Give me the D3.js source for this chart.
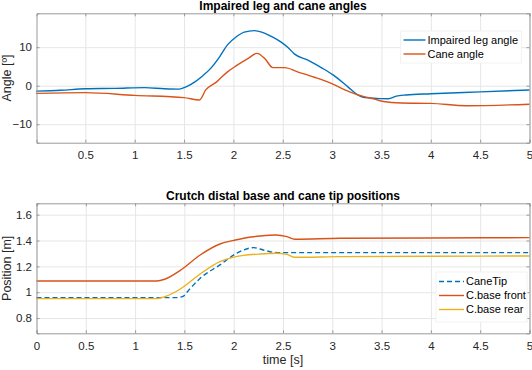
<!DOCTYPE html>
<html>
<head>
<meta charset="utf-8">
<script src="https://cdn.jsdelivr.net/npm/d3@7"></script>
<style>
  body { margin: 0; background: #fff; }
  svg { display: block; font-family: "Liberation Sans", Arial, sans-serif; }
</style>
</head>
<body>
<svg id="chart" width="532" height="370"></svg>
<script>
// top panel: angles (deg)
const legTime = [0, 0.25, 0.5, 0.8, 1.1, 1.3, 1.45, 1.52, 1.61, 1.69, 1.77, 1.86, 1.94, 2.03, 2.11, 2.21, 2.32, 2.4, 2.48, 2.55, 2.62, 2.75, 2.89, 3.01, 3.16, 3.26, 3.33, 3.45, 3.57, 3.65, 3.75, 4.0, 4.5, 5.0];
const legAngle = [-1.4, -1.2, -0.8, -0.7, -0.5, -0.8, -0.9, -0.3, 1.0, 2.6, 4.5, 7.5, 10.6, 12.7, 13.9, 14.3, 13.6, 12.6, 11.4, 10.0, 8.2, 6.7, 4.7, 2.8, -0.3, -2.4, -3.1, -3.3, -3.4, -2.7, -2.4, -2.1, -1.6, -1.1];
const caneTime = [0, 0.5, 1.0, 1.5, 1.656, 1.72, 1.83, 1.94, 2.03, 2.15, 2.24, 2.32, 2.4, 2.52, 2.65, 2.82, 2.99, 3.13, 3.26, 3.43, 3.52, 3.7, 4.0, 4.36, 5.0];
const caneAngle = [-2.0, -1.8, -2.5, -3.1, -3.7, -1.1, 1.0, 3.6, 5.2, 7.1, 8.4, 7.0, 4.7, 4.7, 3.6, 2.2, 0.6, -1.1, -2.4, -3.5, -4.1, -4.5, -4.6, -5.2, -4.8];

// bottom panel: positions (m)
const tipTime = [0, 1.42, 1.48, 1.56, 1.66, 1.86, 2.03, 2.2, 2.3, 2.4, 2.5, 3.0, 5.0];
const tipPos = [0.958, 0.958, 0.966, 1.03, 1.108, 1.211, 1.301, 1.345, 1.327, 1.309, 1.306, 1.306, 1.306];
const baseTime = [0, 1.22, 1.3, 1.455, 1.66, 1.86, 1.99, 2.1, 2.27, 2.43, 2.54, 2.62, 3.08, 4.0, 5.0];
const frontPos = [1.087, 1.087, 1.10, 1.167, 1.288, 1.373, 1.399, 1.418, 1.435, 1.443, 1.43, 1.41, 1.417, 1.42, 1.422];
const rearPos = [0.95, 0.95, 0.965, 1.023, 1.141, 1.236, 1.27, 1.285, 1.296, 1.301, 1.293, 1.27, 1.275, 1.278, 1.28];

const topXTicks = [0.5, 1, 1.5, 2, 2.5, 3, 3.5, 4, 4.5, 5];
const botXTicks = [0, 0.5, 1, 1.5, 2, 2.5, 3, 3.5, 4, 4.5, 5];
const topYTicks = [-10, 0, 10];
const botYTicks = [0.8, 1, 1.2, 1.4, 1.6];

const BLUE = "#0072BD", ORANGE = "#D95319", YELLOW = "#EDB120";

const svg = d3.select("#chart");

function zip(ts, vs) { return ts.map((t, i) => ({ t: t, v: vs[i] })); }

function panel(opt) {
    const g = svg.append("g").attr("transform", `translate(${opt.left},${opt.top})`);
    const w = opt.width, h = opt.height;
    const x = d3.scaleLinear().domain(opt.xDomain).range([0, w]);
    const y = d3.scaleLinear().domain(opt.yDomain).range([h, 0]);

    g.append("rect").attr("width", w).attr("height", h).attr("fill", "#fff");

    // grid
    g.append("g").attr("class", "grid")
        .attr("transform", `translate(0,${h})`)
        .call(d3.axisBottom(x).tickValues(opt.xTicks).tickSize(-h).tickFormat(""))
        .call(s => s.select(".domain").remove());
    g.append("g").attr("class", "grid")
        .call(d3.axisLeft(y).tickValues(opt.yTicks).tickSize(-w).tickFormat(""))
        .call(s => s.select(".domain").remove());
    g.selectAll(".grid line").attr("stroke", "#e6e6e6").attr("stroke-width", 1);

    // lines
    opt.series.forEach(s => {
        const line = d3.line().x(d => x(d.t)).y(d => y(d.v)).curve(d3.curveMonotoneX);
        g.append("path")
            .datum(zip(s.t, s.v))
            .attr("fill", "none")
            .attr("stroke", s.color)
            .attr("stroke-width", 1.4)
            .attr("stroke-dasharray", s.dash || null)
            .attr("d", line);
    });

    // axes with inward ticks
    const ax = [
        g.append("g").attr("transform", `translate(0,${h})`)
            .call(d3.axisBottom(x).tickValues(opt.xTicks).tickSize(-3).tickPadding(8.5).tickFormat(d3.format(""))),
        g.append("g")
            .call(d3.axisTop(x).tickValues(opt.xTicks).tickSize(-3).tickFormat("")),
        g.append("g")
            .call(d3.axisLeft(y).tickValues(opt.yTicks).tickSize(-3).tickPadding(4.5).tickFormat(d3.format(""))),
        g.append("g").attr("transform", `translate(${w},0)`)
            .call(d3.axisRight(y).tickValues(opt.yTicks).tickSize(-3).tickFormat(""))
    ];
    ax.forEach(a => {
        a.select(".domain").attr("stroke", "#9a9a9a");
        a.selectAll(".tick line").attr("stroke", "#9a9a9a");
        a.selectAll("text").attr("fill", "#262626").style("font-size", "11.5px");
    });

    // title
    svg.append("text")
        .attr("x", opt.left + w / 2)
        .attr("y", opt.top - 3.8)
        .attr("text-anchor", "middle")
        .attr("fill", "#000")
        .style("font-size", "12px")
        .style("font-weight", "bold")
        .text(opt.title);

    // y label
    svg.append("text")
        .attr("transform", `translate(10.5,${opt.top + h / 2}) rotate(-90)`)
        .attr("text-anchor", "middle")
        .attr("fill", "#262626")
        .style("font-size", "12.5px")
        .text(opt.yLabel);

    // legend
    const L = opt.legend;
    const lg = svg.append("g");
    lg.append("rect")
        .attr("x", L.x).attr("y", L.y).attr("width", L.w).attr("height", L.h)
        .attr("fill", "#fff").attr("stroke", "#f2f2f2");
    opt.series.forEach((s, i) => {
        const ly = L.y + L.first + i * L.step;
        lg.append("line")
            .attr("x1", L.x + 3).attr("x2", L.x + 3 + L.len)
            .attr("y1", ly).attr("y2", ly)
            .attr("stroke", s.color).attr("stroke-width", 1.4)
            .attr("stroke-dasharray", s.dash || null);
        lg.append("text")
            .attr("x", L.x + 5 + L.len)
            .attr("y", ly)
            .attr("dy", "0.35em")
            .attr("fill", "#000")
            .style("font-size", "11px")
            .text(s.name);
    });
}

panel({
    left: 36.5, top: 13.3, width: 493, height: 129.4,
    xDomain: [0.005, 5], yDomain: [-14.8, 18.8],
    xTicks: topXTicks, yTicks: topYTicks,
    title: "Impaired leg and cane angles",
    yLabel: "Angle [º]",
    series: [
        { name: "Impaired leg angle", t: legTime, v: legAngle, color: BLUE },
        { name: "Cane angle", t: caneTime, v: caneAngle, color: ORANGE }
    ],
    legend: { x: 400.5, y: 31, w: 121, h: 32, first: 9, step: 14, len: 22 }
});

panel({
    left: 36.5, top: 203.3, width: 493, height: 130,
    xDomain: [0, 5], yDomain: [0.682, 1.688],
    xTicks: botXTicks, yTicks: botYTicks,
    title: "Crutch distal base and cane tip positions",
    yLabel: "Position [m]",
    series: [
        { name: "CaneTip", t: tipTime, v: tipPos, color: BLUE, dash: "5,3" },
        { name: "C.base front", t: baseTime, v: frontPos, color: ORANGE },
        { name: "C.base rear", t: baseTime, v: rearPos, color: YELLOW }
    ],
    legend: { x: 436, y: 272, w: 91, h: 50, first: 9.5, step: 14, len: 25 }
});

svg.append("text")
    .attr("x", 283)
    .attr("y", 364)
    .attr("text-anchor", "middle")
    .attr("fill", "#262626")
    .style("font-size", "12.5px")
    .text("time [s]");
</script>
</body>
</html>
